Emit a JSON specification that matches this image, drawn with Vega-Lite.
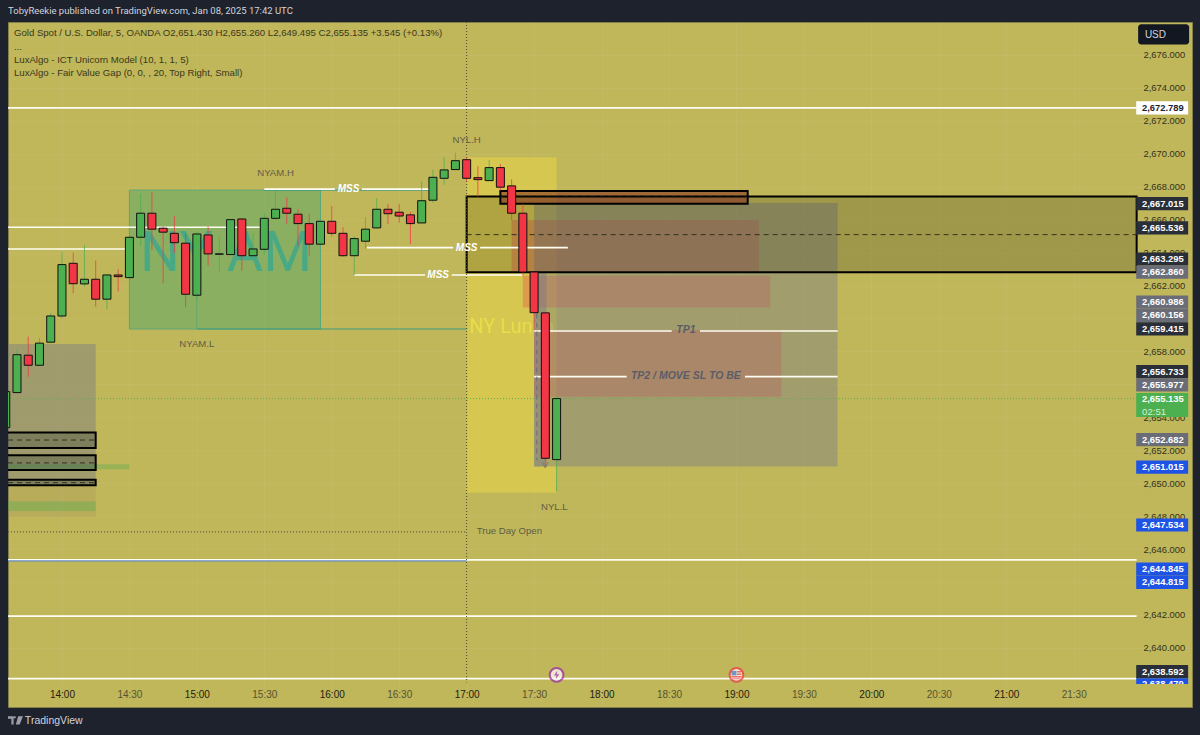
{"$schema":"https://vega.github.io/schema/vega-lite/v6.json","autosize":{"type":"none"},"width":1184,"height":685,"padding":{"left":8,"top":22,"right":8,"bottom":28},"background":"#1e222d","view":{"fill":"#c0b65a","stroke":"#85804a","strokeWidth":1},"config":{"font":"Liberation Sans"},"title":{"text":"TobyReekie published on TradingView.com, Jan 08, 2025 17:42 UTC","anchor":"start","frame":"group","offset":6,"fontSize":9.5,"fontWeight":"normal","color":"#d1d4dc","font":"Roboto"},
"datasets":{"bodies":[
{"t":"2025-01-08T13:35Z","p":2653.37,"p2":2655.56},
{"t":"2025-01-08T13:40Z","p":2655.5,"p2":2657.8},
{"t":"2025-01-08T13:45Z","p":2657.77,"p2":2657.16},
{"t":"2025-01-08T13:50Z","p":2657.16,"p2":2658.5},
{"t":"2025-01-08T13:55Z","p":2658.56,"p2":2660.15},
{"t":"2025-01-08T14:00Z","p":2660.15,"p2":2663.27},
{"t":"2025-01-08T14:05Z","p":2663.35,"p2":2662.11},
{"t":"2025-01-08T14:10Z","p":2662.1,"p2":2662.38},
{"t":"2025-01-08T14:15Z","p":2662.38,"p2":2661.17},
{"t":"2025-01-08T14:20Z","p":2661.17,"p2":2662.64},
{"t":"2025-01-08T14:25Z","p":2662.64,"p2":2662.54},
{"t":"2025-01-08T14:30Z","p":2662.48,"p2":2664.93},
{"t":"2025-01-08T14:35Z","p":2664.93,"p2":2666.39},
{"t":"2025-01-08T14:40Z","p":2666.39,"p2":2665.42},
{"t":"2025-01-08T14:45Z","p":2665.48,"p2":2665.24},
{"t":"2025-01-08T14:50Z","p":2665.17,"p2":2664.6},
{"t":"2025-01-08T14:55Z","p":2664.57,"p2":2661.47},
{"t":"2025-01-08T15:00Z","p":2661.41,"p2":2665.13},
{"t":"2025-01-08T15:05Z","p":2665.07,"p2":2663.92},
{"t":"2025-01-08T15:10Z","p":2663.9,"p2":2663.92},
{"t":"2025-01-08T15:15Z","p":2663.88,"p2":2666.0},
{"t":"2025-01-08T15:20Z","p":2666.04,"p2":2663.81},
{"t":"2025-01-08T15:25Z","p":2663.81,"p2":2664.22},
{"t":"2025-01-08T15:30Z","p":2664.2,"p2":2666.08},
{"t":"2025-01-08T15:35Z","p":2666.08,"p2":2666.63},
{"t":"2025-01-08T15:40Z","p":2666.69,"p2":2666.39},
{"t":"2025-01-08T15:45Z","p":2666.33,"p2":2665.76},
{"t":"2025-01-08T15:50Z","p":2665.76,"p2":2664.51},
{"t":"2025-01-08T15:55Z","p":2664.51,"p2":2665.9},
{"t":"2025-01-08T16:00Z","p":2665.9,"p2":2665.17},
{"t":"2025-01-08T16:05Z","p":2665.17,"p2":2663.81},
{"t":"2025-01-08T16:10Z","p":2663.81,"p2":2664.85},
{"t":"2025-01-08T16:15Z","p":2664.69,"p2":2665.42},
{"t":"2025-01-08T16:20Z","p":2665.5,"p2":2666.63},
{"t":"2025-01-08T16:25Z","p":2666.63,"p2":2666.36},
{"t":"2025-01-08T16:30Z","p":2666.45,"p2":2666.22},
{"t":"2025-01-08T16:35Z","p":2666.29,"p2":2665.76},
{"t":"2025-01-08T16:40Z","p":2665.8,"p2":2667.15},
{"t":"2025-01-08T16:45Z","p":2667.18,"p2":2668.57},
{"t":"2025-01-08T16:50Z","p":2668.51,"p2":2669.02},
{"t":"2025-01-08T16:55Z","p":2669.04,"p2":2669.58},
{"t":"2025-01-08T17:00Z","p":2669.64,"p2":2668.51},
{"t":"2025-01-08T17:05Z","p":2668.55,"p2":2668.43},
{"t":"2025-01-08T17:10Z","p":2668.37,"p2":2669.16},
{"t":"2025-01-08T17:15Z","p":2669.16,"p2":2667.97},
{"t":"2025-01-08T17:20Z","p":2668.05,"p2":2666.39},
{"t":"2025-01-08T17:25Z","p":2666.39,"p2":2662.82},
{"t":"2025-01-08T17:30Z","p":2662.82,"p2":2660.35},
{"t":"2025-01-08T17:35Z","p":2660.34,"p2":2651.51},
{"t":"2025-01-08T17:40Z","p":2651.43,"p2":2655.135}
],
"wicks":[
{"t":"2025-01-08T13:35Z","p":2655.56,"p2":2653.37,"d":"up"},
{"t":"2025-01-08T13:40Z","p":2658.09,"p2":2655.5,"d":"up"},
{"t":"2025-01-08T13:45Z","p":2658.9,"p2":2656.47,"d":"down"},
{"t":"2025-01-08T13:50Z","p":2658.82,"p2":2657.1,"d":"up"},
{"t":"2025-01-08T13:55Z","p":2660.32,"p2":2658.5,"d":"up"},
{"t":"2025-01-08T14:00Z","p":2664.06,"p2":2660.01,"d":"up"},
{"t":"2025-01-08T14:05Z","p":2664.0,"p2":2661.53,"d":"down"},
{"t":"2025-01-08T14:10Z","p":2664.46,"p2":2661.93,"d":"up"},
{"t":"2025-01-08T14:15Z","p":2663.51,"p2":2660.72,"d":"down"},
{"t":"2025-01-08T14:20Z","p":2662.7,"p2":2660.56,"d":"up"},
{"t":"2025-01-08T14:25Z","p":2662.99,"p2":2661.63,"d":"down"},
{"t":"2025-01-08T14:30Z","p":2664.95,"p2":2662.45,"d":"up"},
{"t":"2025-01-08T14:35Z","p":2667.6,"p2":2664.4,"d":"up"},
{"t":"2025-01-08T14:40Z","p":2667.64,"p2":2664.16,"d":"down"},
{"t":"2025-01-08T14:45Z","p":2665.58,"p2":2662.14,"d":"down"},
{"t":"2025-01-08T14:50Z","p":2666.22,"p2":2663.98,"d":"down"},
{"t":"2025-01-08T14:55Z","p":2665.19,"p2":2660.68,"d":"down"},
{"t":"2025-01-08T15:00Z","p":2665.27,"p2":2661.12,"d":"up"},
{"t":"2025-01-08T15:05Z","p":2665.58,"p2":2663.21,"d":"down"},
{"t":"2025-01-08T15:10Z","p":2664.97,"p2":2662.84,"d":"up"},
{"t":"2025-01-08T15:15Z","p":2666.02,"p2":2663.86,"d":"up"},
{"t":"2025-01-08T15:20Z","p":2666.08,"p2":2662.9,"d":"down"},
{"t":"2025-01-08T15:25Z","p":2665.17,"p2":2663.8,"d":"up"},
{"t":"2025-01-08T15:30Z","p":2666.39,"p2":2663.86,"d":"up"},
{"t":"2025-01-08T15:35Z","p":2667.76,"p2":2665.98,"d":"up"},
{"t":"2025-01-08T15:40Z","p":2667.36,"p2":2665.74,"d":"down"},
{"t":"2025-01-08T15:45Z","p":2666.63,"p2":2664.36,"d":"down"},
{"t":"2025-01-08T15:50Z","p":2666.35,"p2":2663.8,"d":"down"},
{"t":"2025-01-08T15:55Z","p":2665.9,"p2":2664.45,"d":"up"},
{"t":"2025-01-08T16:00Z","p":2666.83,"p2":2664.97,"d":"down"},
{"t":"2025-01-08T16:05Z","p":2665.54,"p2":2663.75,"d":"down"},
{"t":"2025-01-08T16:10Z","p":2665.01,"p2":2662.64,"d":"up"},
{"t":"2025-01-08T16:15Z","p":2666.15,"p2":2664.26,"d":"up"},
{"t":"2025-01-08T16:20Z","p":2667.3,"p2":2665.48,"d":"up"},
{"t":"2025-01-08T16:25Z","p":2666.95,"p2":2665.74,"d":"down"},
{"t":"2025-01-08T16:30Z","p":2666.95,"p2":2665.82,"d":"down"},
{"t":"2025-01-08T16:35Z","p":2666.47,"p2":2664.52,"d":"down"},
{"t":"2025-01-08T16:40Z","p":2668.31,"p2":2665.78,"d":"up"},
{"t":"2025-01-08T16:45Z","p":2669.02,"p2":2667.03,"d":"up"},
{"t":"2025-01-08T16:50Z","p":2669.79,"p2":2668.11,"d":"up"},
{"t":"2025-01-08T16:55Z","p":2670.07,"p2":2669.02,"d":"up"},
{"t":"2025-01-08T17:00Z","p":2669.79,"p2":2668.31,"d":"down"},
{"t":"2025-01-08T17:05Z","p":2669.26,"p2":2667.4,"d":"down"},
{"t":"2025-01-08T17:10Z","p":2669.62,"p2":2668.35,"d":"up"},
{"t":"2025-01-08T17:15Z","p":2669.38,"p2":2667.76,"d":"down"},
{"t":"2025-01-08T17:20Z","p":2668.45,"p2":2665.98,"d":"down"},
{"t":"2025-01-08T17:25Z","p":2666.95,"p2":2662.6,"d":"down"},
{"t":"2025-01-08T17:30Z","p":2662.84,"p2":2659.3,"d":"down"},
{"t":"2025-01-08T17:35Z","p":2660.36,"p2":2651.0,"d":"down"},
{"t":"2025-01-08T17:40Z","p":2655.26,"p2":2649.495,"d":"up"}
],
"pricebox":[
{"t":"2025-01-08T21:57:48Z","t2":"2025-01-08T22:20:54Z","k":"white","p":2673.19,"p2":2672.39},
{"t":"2025-01-08T21:57:48Z","t2":"2025-01-08T22:20:54Z","k":"dark","p":2667.37,"p2":2666.57},
{"t":"2025-01-08T21:57:48Z","t2":"2025-01-08T22:20:54Z","k":"dark","p":2665.9,"p2":2665.1},
{"t":"2025-01-08T21:57:48Z","t2":"2025-01-08T22:20:54Z","k":"dark","p":2664.01,"p2":2663.21},
{"t":"2025-01-08T21:57:48Z","t2":"2025-01-08T22:20:54Z","k":"gray","p":2663.21,"p2":2662.41},
{"t":"2025-01-08T21:57:48Z","t2":"2025-01-08T22:20:54Z","k":"gray","p":2661.4,"p2":2660.6},
{"t":"2025-01-08T21:57:48Z","t2":"2025-01-08T22:20:54Z","k":"gray","p":2660.6,"p2":2659.77},
{"t":"2025-01-08T21:57:48Z","t2":"2025-01-08T22:20:54Z","k":"dark","p":2659.77,"p2":2658.96},
{"t":"2025-01-08T21:57:48Z","t2":"2025-01-08T22:20:54Z","k":"dark","p":2657.17,"p2":2656.37},
{"t":"2025-01-08T21:57:48Z","t2":"2025-01-08T22:20:54Z","k":"gray","p":2656.37,"p2":2655.56},
{"t":"2025-01-08T21:57:48Z","t2":"2025-01-08T22:20:54Z","k":"green","p":2655.48,"p2":2654.02},
{"t":"2025-01-08T21:57:48Z","t2":"2025-01-08T22:20:54Z","k":"gray","p":2653.04,"p2":2652.24},
{"t":"2025-01-08T21:57:48Z","t2":"2025-01-08T22:20:54Z","k":"blue","p":2651.37,"p2":2650.57},
{"t":"2025-01-08T21:57:48Z","t2":"2025-01-08T22:20:54Z","k":"blue","p":2647.86,"p2":2647.06},
{"t":"2025-01-08T21:57:48Z","t2":"2025-01-08T22:20:54Z","k":"blue","p":2645.19,"p2":2644.39},
{"t":"2025-01-08T21:57:48Z","t2":"2025-01-08T22:20:54Z","k":"blue","p":2644.39,"p2":2643.58},
{"t":"2025-01-08T21:57:48Z","t2":"2025-01-08T22:20:54Z","k":"dark","p":2638.96,"p2":2638.16},
{"t":"2025-01-08T21:57:48Z","t2":"2025-01-08T22:20:54Z","k":"blue","p":2638.16,"p2":2637.8}
],
"pricetext":[
{"t":"2025-01-08T22:00:24Z","v":"2,672.789","k":"white","p":2672.789},
{"t":"2025-01-08T22:00:24Z","v":"2,667.015","k":"dark","p":2666.97},
{"t":"2025-01-08T22:00:24Z","v":"2,665.536","k":"dark","p":2665.5},
{"t":"2025-01-08T22:00:24Z","v":"2,663.295","k":"dark","p":2663.61},
{"t":"2025-01-08T22:00:24Z","v":"2,662.860","k":"gray","p":2662.81},
{"t":"2025-01-08T22:00:24Z","v":"2,660.986","k":"gray","p":2661.0},
{"t":"2025-01-08T22:00:24Z","v":"2,660.156","k":"gray","p":2660.2},
{"t":"2025-01-08T22:00:24Z","v":"2,659.415","k":"dark","p":2659.36},
{"t":"2025-01-08T22:00:24Z","v":"2,656.733","k":"dark","p":2656.77},
{"t":"2025-01-08T22:00:24Z","v":"2,655.977","k":"gray","p":2655.96},
{"t":"2025-01-08T22:00:24Z","v":"2,655.135","k":"green","p":2655.14},
{"t":"2025-01-08T22:00:24Z","v":"2,652.682","k":"gray","p":2652.64},
{"t":"2025-01-08T22:00:24Z","v":"2,651.015","k":"blue","p":2650.97},
{"t":"2025-01-08T22:00:24Z","v":"2,647.534","k":"blue","p":2647.46},
{"t":"2025-01-08T22:00:24Z","v":"2,644.845","k":"blue","p":2644.79},
{"t":"2025-01-08T22:00:24Z","v":"2,644.815","k":"blue","p":2643.98},
{"t":"2025-01-08T22:00:24Z","v":"2,638.592","k":"dark","p":2638.56},
{"t":"2025-01-08T22:00:24Z","v":"2,638.479","k":"blue","p":2637.81}
]},
"encoding":{
"x":{"field":"t","type":"temporal","scale":{"type":"utc","domain":[1736343360000,1736374957200],"nice":false,"padding":0},"axis":{"title":null,"orient":"bottom","offset":-24,"values":[1736344800000,1736346600000,1736348400000,1736350200000,1736352000000,1736353800000,1736355600000,1736357400000,1736359200000,1736361000000,1736362800000,1736364600000,1736366400000,1736368200000,1736370000000,1736371800000],"labelExpr":"utcFormat(datum.value,'%H:%M')","domain":false,"ticks":false,"labelPadding":6,"labelFontSize":10,"labelOverlap":false,"labelFlush":false,"labelBound":false,"labelColor":{"expr":"utcminutes(datum.value)==0?'#22200f':'#55532f'"},"grid":true,"gridColor":"#ffffff","gridOpacity":0.05}},
"y":{"field":"p","type":"quantitative","scale":{"domain":[2636.41,2678.0],"zero":false,"nice":false,"padding":0},"axis":{"title":null,"orient":"right","offset":-50,"values":[2640,2642,2644,2646,2648,2650,2652,2654,2656,2658,2660,2662,2664,2666,2668,2670,2672,2674,2676],"format":",.3f","domain":false,"ticks":false,"labelPadding":1,"labelFontSize":9.4,"labelColor":"#33321a","labelOverlap":false,"labelBound":false,"labelFlush":false,"grid":true,"gridColor":"#ffffff","gridOpacity":0.05}}
},
"layer":[
{"data":{"values":[
{"t":"2025-01-08T13:30Z","t2":"2025-01-08T14:15Z","p":2658.45,"p2":2649.89,"k":"leftgray"},
{"t":"2025-01-08T13:30Z","t2":"2025-01-08T14:15Z","p":2649.89,"p2":2647.95,"k":"tan"},
{"t":"2025-01-08T13:30Z","t2":"2025-01-08T14:15Z","p":2648.9,"p2":2648.31,"k":"strip"},
{"t":"2025-01-08T13:30Z","t2":"2025-01-08T14:30Z","p":2651.15,"p2":2650.85,"k":"strip"},
{"t":"2025-01-08T14:30Z","t2":"2025-01-08T15:55Z","p":2667.79,"p2":2659.36,"k":"nyam"},
{"t":"2025-01-08T17:00Z","t2":"2025-01-08T17:40Z","p":2669.79,"p2":2649.42,"k":"lunch"}
],"format":{"parse":{"t":"date","t2":"date"}}},"mark":{"type":"rect","clip":true,"strokeWidth":0},"encoding":{"x2":{"field":"t2"},"y2":{"field":"p2"},"color":{"field":"k","type":"nominal","legend":null,"scale":{"domain":["leftgray","tan","strip","nyam","lunch","red","gray","grayin","blackbox","brown","small"],"range":["rgba(120,123,134,0.45)","rgba(150,125,100,0.18)","rgba(76,175,80,0.35)","rgba(60,165,105,0.4)","rgba(255,235,59,0.33)","rgba(242,54,69,0.3)","rgba(120,123,134,0.42)","rgba(110,110,150,0.35)","rgba(40,40,20,0.22)","rgba(130,40,30,0.55)","rgba(40,50,50,0.28)"]}}}},
{"data":{"values":[{"t":"2025-01-08T15:13Z","p":2663.9,"v":"NY AM"}],"format":{"parse":{"t":"date"}}},"mark":{"type":"text","font":"Roboto","fontSize":56,"color":"#3fa98c","opacity":0.85,"align":"center","baseline":"middle"},"encoding":{"text":{"field":"v"}}},
{"data":{"values":[{"t":"2025-01-08T17:20Z","p":2659.5,"v":"NY Lunch"}],"format":{"parse":{"t":"date"}}},"mark":{"type":"text","font":"Roboto","fontSize":20,"color":"#e9dd48","align":"center","baseline":"middle"},"encoding":{"text":{"field":"v"}}},
{"data":{"values":[
{"t":"2025-01-08T17:20Z","t2":"2025-01-08T19:10Z","p":2665.98,"p2":2662.84,"k":"red"},
{"t":"2025-01-08T17:25Z","t2":"2025-01-08T19:15Z","p":2662.6,"p2":2660.66,"k":"red"},
{"t":"2025-01-08T17:30Z","t2":"2025-01-08T19:20Z","p":2659.3,"p2":2655.25,"k":"red"},
{"t":"2025-01-08T17:30Z","t2":"2025-01-08T19:45Z","p":2667.015,"p2":2651.015,"k":"gray"},
{"t":"2025-01-08T17:30Z","t2":"2025-01-08T17:35:30Z","p":2662.8,"p2":2651.015,"k":"grayin"},
{"t":"2025-01-08T17:00Z","t2":"2025-01-08T21:58Z","p":2667.4,"p2":2662.81,"k":"blackbox"},
{"t":"2025-01-08T17:15Z","t2":"2025-01-08T19:05Z","p":2667.74,"p2":2666.97,"k":"brown"},
{"t":"2025-01-08T13:30Z","t2":"2025-01-08T14:15Z","p":2653.07,"p2":2652.14,"k":"small"},
{"t":"2025-01-08T13:30Z","t2":"2025-01-08T14:15Z","p":2651.7,"p2":2650.8,"k":"small"},
{"t":"2025-01-08T13:30Z","t2":"2025-01-08T14:15Z","p":2650.2,"p2":2649.87,"k":"small"}
],"format":{"parse":{"t":"date","t2":"date"}}},"mark":{"type":"rect","clip":true,"strokeWidth":0},"encoding":{"x2":{"field":"t2"},"y2":{"field":"p2"},"color":{"field":"k","type":"nominal","legend":null,"scale":{"domain":["leftgray","tan","strip","nyam","lunch","red","gray","grayin","blackbox","brown","small"],"range":["rgba(120,123,134,0.45)","rgba(150,125,100,0.18)","rgba(76,175,80,0.35)","rgba(60,165,105,0.4)","rgba(255,235,59,0.33)","rgba(242,54,69,0.3)","rgba(120,123,134,0.42)","rgba(110,110,150,0.35)","rgba(40,40,20,0.22)","rgba(130,40,30,0.55)","rgba(40,50,50,0.28)"]}}}},
{"data":{"values":[{"t":"2025-01-08T14:30Z","t2":"2025-01-08T15:55Z","p":2667.79,"p2":2659.36}],"format":{"parse":{"t":"date","t2":"date"}}},"mark":{"type":"rect","fill":"transparent","stroke":"#5aa878","strokeWidth":1,"clip":true},"encoding":{"x2":{"field":"t2"},"y2":{"field":"p2"}}},
{"data":{"values":[
{"t":"2025-01-08T17:00Z","t2":"2025-01-08T21:58Z","p":2667.4,"p2":2662.81},
{"t":"2025-01-08T17:15Z","t2":"2025-01-08T19:05Z","p":2667.74,"p2":2666.97},
{"t":"2025-01-08T13:30Z","t2":"2025-01-08T14:15Z","p":2653.07,"p2":2652.14},
{"t":"2025-01-08T13:30Z","t2":"2025-01-08T14:15Z","p":2651.7,"p2":2650.8},
{"t":"2025-01-08T13:30Z","t2":"2025-01-08T14:15Z","p":2650.2,"p2":2649.87}
],"format":{"parse":{"t":"date","t2":"date"}}},"mark":{"type":"rect","fill":"transparent","stroke":"#000000","strokeWidth":2,"clip":true},"encoding":{"x2":{"field":"t2"},"y2":{"field":"p2"}}},
{"data":{"values":[
{"t":"2025-01-08T17:00Z","t2":"2025-01-08T21:58Z","p":2665.09},
{"t":"2025-01-08T17:15Z","t2":"2025-01-08T19:05Z","p":2667.36},
{"t":"2025-01-08T13:36Z","t2":"2025-01-08T14:15Z","p":2652.62},
{"t":"2025-01-08T13:36Z","t2":"2025-01-08T14:15Z","p":2651.23},
{"t":"2025-01-08T13:36Z","t2":"2025-01-08T14:15Z","p":2650.03}
],"format":{"parse":{"t":"date","t2":"date"}}},"mark":{"type":"rule","color":"#33321f","strokeWidth":1,"strokeDash":[5,4],"clip":true},"encoding":{"x2":{"field":"t2"}}},
{"data":{"values":[
{"t":"2025-01-08T15:00Z","t2":"2025-01-08T17:00Z","p":2659.36},
{"t":"2025-01-08T15:30Z","t2":"2025-01-08T16:44Z","p":2667.79}
],"format":{"parse":{"t":"date","t2":"date"}}},"mark":{"type":"rule","color":"#3f9a80","strokeWidth":1,"clip":true},"encoding":{"x2":{"field":"t2"}}},
{"data":{"values":[{"t":"2025-01-08T15:00Z","p":2661.4,"p2":2659.36}],"format":{"parse":{"t":"date"}}},"mark":{"type":"rule","color":"#5aa878","strokeWidth":1},"encoding":{"y2":{"field":"p2"}}},
{"data":{"values":[
{"t":"2025-01-08T13:36Z","t2":"2025-01-08T21:58Z","p":2672.789},
{"t":"2025-01-08T13:36Z","t2":"2025-01-08T15:28Z","p":2665.536},
{"t":"2025-01-08T13:36Z","t2":"2025-01-08T14:30Z","p":2664.22},
{"t":"2025-01-08T13:36Z","t2":"2025-01-08T21:58Z","p":2645.34},
{"t":"2025-01-08T13:36Z","t2":"2025-01-08T21:58Z","p":2641.93},
{"t":"2025-01-08T13:36Z","t2":"2025-01-08T21:58Z","p":2638.13},
{"t":"2025-01-08T15:30Z","t2":"2025-01-08T16:01:24Z","p":2667.85},
{"t":"2025-01-08T16:13:24Z","t2":"2025-01-08T16:44Z","p":2667.85},
{"t":"2025-01-08T16:15:40Z","t2":"2025-01-08T16:54Z","p":2664.3},
{"t":"2025-01-08T17:06Z","t2":"2025-01-08T17:45Z","p":2664.3},
{"t":"2025-01-08T16:10Z","t2":"2025-01-08T16:41:30Z","p":2662.64},
{"t":"2025-01-08T16:53:20Z","t2":"2025-01-08T17:25Z","p":2662.64},
{"t":"2025-01-08T17:30Z","t2":"2025-01-08T18:31:12Z","p":2659.24},
{"t":"2025-01-08T18:43:48Z","t2":"2025-01-08T19:45Z","p":2659.24},
{"t":"2025-01-08T17:30Z","t2":"2025-01-08T18:11:12Z","p":2656.47},
{"t":"2025-01-08T19:03:48Z","t2":"2025-01-08T19:45Z","p":2656.47}
],"format":{"parse":{"t":"date","t2":"date"}}},"mark":{"type":"rule","color":"#fffef2","strokeWidth":1.6,"clip":true},"encoding":{"x2":{"field":"t2"}}},
{"data":{"values":[{"t":"2025-01-08T13:36Z","t2":"2025-01-08T17:00Z","p":2645.28}],"format":{"parse":{"t":"date","t2":"date"}}},"mark":{"type":"rule","color":"#4a7bd8","strokeWidth":1,"clip":true},"encoding":{"x2":{"field":"t2"}}},
{"data":{"values":[{"t":"2025-01-08T13:36Z","t2":"2025-01-08T17:00Z","p":2647.04}],"format":{"parse":{"t":"date","t2":"date"}}},"mark":{"type":"rule","color":"#4a4830","strokeWidth":1,"strokeDash":[1,2],"clip":true},"encoding":{"x2":{"field":"t2"}}},
{"data":{"values":[{"t":"2025-01-08T13:36Z","t2":"2025-01-08T21:58Z","p":2655.135}],"format":{"parse":{"t":"date","t2":"date"}}},"mark":{"type":"rule","color":"#5fae55","strokeWidth":1,"strokeDash":[1,2],"clip":true},"encoding":{"x2":{"field":"t2"}}},
{"data":{"values":[{"t":"2025-01-08T17:00Z","p":2678,"p2":2637.9}],"format":{"parse":{"t":"date"}}},"mark":{"type":"rule","color":"#4a4830","strokeWidth":1,"strokeDash":[1,2]},"encoding":{"y2":{"field":"p2"}}},
{"data":{"values":[{"t":"2025-01-08T17:31:12Z","p":2660.3,"p2":2651.4}],"format":{"parse":{"t":"date"}}},"mark":{"type":"rule","color":"#6a6d78","strokeWidth":1,"strokeDash":[5,4]},"encoding":{"y2":{"field":"p2"}}},
{"data":{"values":[{"t":"2025-01-08T17:35Z","p":2651.1}],"format":{"parse":{"t":"date"}}},"mark":{"type":"point","shape":"M-1,-1L0,1L1,-1","size":36,"stroke":"#6a6d78","strokeWidth":1,"filled":false}},
{"data":{"values":[
{"t":"2025-01-08T16:07:30Z","p":2667.85,"v":"MSS"},
{"t":"2025-01-08T17:00Z","p":2664.3,"v":"MSS"},
{"t":"2025-01-08T16:47:20Z","p":2662.64,"v":"MSS"}
],"format":{"parse":{"t":"date"}}},"mark":{"type":"text","fontSize":10,"fontWeight":"bold","fontStyle":"italic","color":"#ffffff","align":"center","baseline":"middle"},"encoding":{"text":{"field":"v"}}},
{"data":{"values":[
{"t":"2025-01-08T18:37:30Z","p":2659.3,"v":"TP1"},
{"t":"2025-01-08T18:37:30Z","p":2656.53,"v":"TP2 / MOVE SL TO BE"}
],"format":{"parse":{"t":"date"}}},"mark":{"type":"text","fontSize":10.5,"fontWeight":"bold","fontStyle":"italic","color":"#5a5d68","align":"center","baseline":"middle"},"encoding":{"text":{"field":"v"}}},
{"data":{"values":[
{"t":"2025-01-08T15:35Z","p":2668.81,"v":"NYAM.H"},
{"t":"2025-01-08T15:00Z","p":2658.47,"v":"NYAM.L"},
{"t":"2025-01-08T17:00Z","p":2670.84,"v":"NYL.H"},
{"t":"2025-01-08T17:39Z","p":2648.56,"v":"NYL.L"},
{"t":"2025-01-08T17:19Z","p":2647.1,"v":"True Day Open"}
],"format":{"parse":{"t":"date"}}},"mark":{"type":"text","fontSize":9.6,"color":"#5f5d45","align":"center","baseline":"middle"},"encoding":{"text":{"field":"v"}}},
{"data":{"name":"wicks","format":{"parse":{"t":"date"}}},"mark":{"type":"rule","strokeWidth":1,"opacity":0.75,"clip":true},"encoding":{"y2":{"field":"p2"},"color":{"condition":{"test":"datum.d=='up'","value":"#4caf50"},"value":"#f23645"}}},
{"data":{"name":"bodies","format":{"parse":{"t":"date"}}},"mark":{"type":"bar","size":8,"stroke":"#111111","strokeWidth":1,"clip":true},"encoding":{"y2":{"field":"p2"},"color":{"condition":{"test":"datum.p2>=datum.p","value":"#4caf50"},"value":"#f23645"}}},
{"data":{"values":[{"t":"2025-01-08T17:40Z","p":2638.36,"k":"fed"},{"t":"2025-01-08T19:00Z","p":2638.36,"k":"us"}],"format":{"parse":{"t":"date"}}},"mark":{"type":"point","shape":"circle","size":190,"filled":true,"fill":"#ffffff","strokeWidth":2},"encoding":{"stroke":{"field":"k","type":"nominal","legend":null,"scale":{"domain":["fed","us"],"range":["#9c27b0","#f23645"]}}}},
{"data":{"values":[{"t":"2025-01-08T17:40Z","p":2638.36}],"format":{"parse":{"t":"date"}}},"mark":{"type":"point","shape":"M0.2,-1L-0.6,0.15L-0.05,0.15L-0.2,1L0.6,-0.15L0.05,-0.15Z","size":80,"filled":true,"fill":"#9c27b0","strokeWidth":0}},
{"data":{"values":[{"t":"2025-01-08T19:00Z","p":2638.36}],"format":{"parse":{"t":"date"}}},"mark":{"type":"point","shape":"M-1,0.2H1V0.5H-1Z M0.1,-0.8H0.9V-0.5H0.1Z M0.1,-0.3H1V0H0.1Z M-0.8,0.65H0.8V0.85H-0.8Z","size":100,"filled":true,"fill":"#f23645","strokeWidth":0}},
{"data":{"values":[{"t":"2025-01-08T19:00Z","p":2638.36}],"format":{"parse":{"t":"date"}}},"mark":{"type":"point","shape":"M-1,-0.8H0V0.1H-1Z","size":100,"filled":true,"fill":"#3f6fc9","strokeWidth":0}},
{"data":{"name":"pricebox","format":{"parse":{"t":"date","t2":"date"}}},"mark":{"type":"rect","clip":true,"strokeWidth":0},"encoding":{"x2":{"field":"t2"},"y2":{"field":"p2"},"fill":{"field":"k","type":"nominal","legend":null,"scale":{"domain":["white","dark","gray","green","blue"],"range":["#ffffff","#2a2e39","#6a6d78","#4caf50","#1e53e5"]}}}},
{"data":{"name":"pricetext","format":{"parse":{"t":"date"}}},"mark":{"type":"text","align":"left","baseline":"middle","fontSize":9.4,"fontWeight":"bold"},"encoding":{"text":{"field":"v"},"color":{"condition":{"test":"datum.k=='white'","value":"#1e222d"},"value":"#ffffff"}}},
{"data":{"values":[{"t":"2025-01-08T21:57:48Z","t2":"2025-01-08T22:20:54Z","p":2637.8,"p2":2637.3}],"format":{"parse":{"t":"date","t2":"date"}}},"mark":{"type":"rect","fill":"#c0b65a"},"encoding":{"x2":{"field":"t2"},"y2":{"field":"p2"}}},
{"data":{"values":[{"t":"2025-01-08T22:00:24Z","p":2654.32,"v":"02:51"}],"format":{"parse":{"t":"date"}}},"mark":{"type":"text","align":"left","baseline":"middle","fontSize":9.6,"color":"#d6f0d8"},"encoding":{"text":{"field":"v"}}},
{"data":{"values":[{"t":"2025-01-08T21:58:40Z","t2":"2025-01-08T22:21:20Z","p":2677.86,"p2":2676.63}],"format":{"parse":{"t":"date","t2":"date"}}},"mark":{"type":"rect","fill":"#131722","cornerRadius":3},"encoding":{"x2":{"field":"t2"},"y2":{"field":"p2"}}},
{"data":{"values":[{"t":"2025-01-08T22:01:40Z","p":2677.22,"v":"USD"}],"format":{"parse":{"t":"date"}}},"mark":{"type":"text","align":"left","baseline":"middle","fontSize":10,"color":"#d1d4dc"},"encoding":{"text":{"field":"v"}}},
{"data":{"values":[
{"t":"2025-01-08T13:38:39Z","p":2677.35,"v":"Gold Spot / U.S. Dollar, 5, OANDA  O2,651.430  H2,655.260  L2,649.495  C2,655.135  +3.545 (+0.13%)"},
{"t":"2025-01-08T13:38:39Z","p":2676.5,"v":"..."},
{"t":"2025-01-08T13:38:39Z","p":2675.7,"v":"LuxAlgo - ICT Unicorn Model (10, 1, 1, 5)"},
{"t":"2025-01-08T13:38:39Z","p":2674.89,"v":"LuxAlgo - Fair Value Gap (0, 0, , 20, Top Right, Small)"}
],"format":{"parse":{"t":"date"}}},"mark":{"type":"text","align":"left","baseline":"middle","fontSize":9.6,"color":"#3a381c"},"encoding":{"text":{"field":"v"}}},
{"data":{"values":[{"t":"2025-01-08T13:43:30Z","p":2635.56,"v":"TradingView"}],"format":{"parse":{"t":"date"}}},"mark":{"type":"text","align":"left","baseline":"middle","fontSize":10.5,"color":"#d1d4dc"},"encoding":{"text":{"field":"v"}}},
{"data":{"values":[{"t":"2025-01-08T13:39:20Z","p":2635.6}],"format":{"parse":{"t":"date"}}},"mark":{"type":"point","shape":"M-1,-0.55H-0.25V0.55H-0.55V-0.2H-1Z M-0.1,-0.55A0.15,0.15 0 1 1 -0.1,-0.25A0.15,0.15 0 1 1 -0.1,-0.55Z M0.35,-0.55H1L0.55,0.55H0.05Z","size":225,"filled":true,"fill":"#d1d4dc","strokeWidth":0}}
]}
